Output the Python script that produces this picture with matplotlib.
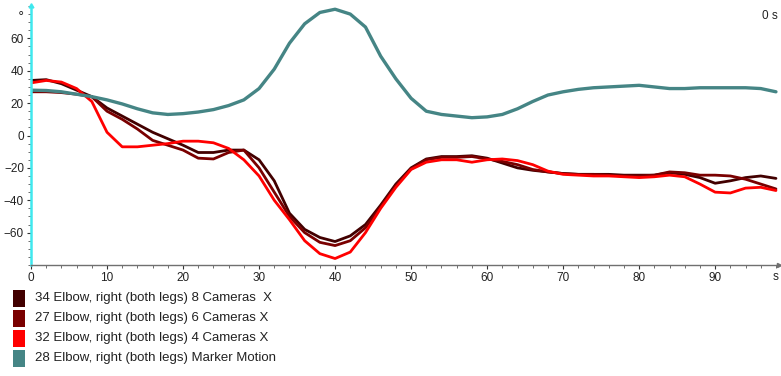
import matplotlib.pyplot as plt
from matplotlib.patches import Rectangle
from matplotlib.ticker import MultipleLocator

# time axis (s), read every 2 s
t = list(range(0, 100, 2))

cam8 = [34, 34.5, 32, 28, 24, 17, 12, 7, 2, -2,
        -6, -10.5, -10.5, -9, -9, -15, -28, -48, -58, -63,
        -65.5, -62, -55, -43, -30, -20, -14.5, -13, -13, -12.5,
        -14, -17, -20, -21.5, -22.5, -23.5, -24, -24, -24, -24.5,
        -24.5, -24.5, -23, -24, -26, -29.5, -28, -26, -25, -26.5]

cam6 = [27, 27, 26.5, 25.5, 24, 15, 10, 4, -3, -6,
        -9, -14, -14.5, -10.5, -9, -20, -35, -50, -60, -66,
        -68, -65, -57, -44, -31, -20.5, -15, -13.5, -13.5, -13,
        -14.5, -16, -18, -21, -22.5, -23.5, -24, -24, -24.5, -25,
        -25, -24.5, -22.5, -23, -24.5, -24.5, -25, -27, -30, -33]

cam4 = [32.5, 34, 33, 29, 21, 2, -7, -7, -6, -5,
        -3.5, -3.5, -4.5, -8, -15, -25, -40, -52, -65, -73,
        -76, -72, -60, -45, -32, -21, -16.5, -15, -15, -16.5,
        -15, -14.5, -15.5, -18, -22, -24, -24.5, -25, -25, -25.5,
        -26, -25.5, -24.5, -25.5, -30, -35, -35.5, -32.5, -32, -34]

marker = [28, 27.8, 27, 25.5, 24, 22, 19.5, 16.5, 14, 13,
          13.5, 14.5, 16, 18.5, 22, 29, 41, 57, 69, 76,
          78, 75, 67, 49, 35, 23, 15, 13, 12, 11,
          11.5, 13, 16.5, 21, 25, 27, 28.5, 29.5, 30, 30.5,
          31, 30, 29, 29, 29.5, 29.5, 29.5, 29.5, 29, 27]

labels = ["34 Elbow, right (both legs) 8 Cameras  X",
          "27 Elbow, right (both legs) 6 Cameras X",
          "32 Elbow, right (both legs) 4 Cameras X",
          "28 Elbow, right (both legs) Marker Motion"]
colors = ["#420000", "#7a0000", "#ff0000", "#458585"]

font = ['Liberation Sans', 'DejaVu Sans']
W, H = 781, 376

fig = plt.figure(figsize=(W / 100, H / 100), dpi=100)
ax = fig.add_axes([31 / W, 111 / H, 748 / W, 259 / H])

for series, c, lw in zip([cam8, cam6, cam4, marker], colors, [2.0, 2.0, 2.0, 2.4]):
    ax.plot(t, series, color=c, lw=lw, solid_capstyle='round')

ax.set_xlim(0, 98.4)
ax.set_ylim(-80, 80)

for s in ['top', 'right']:
    ax.spines[s].set_visible(False)
ax.spines['left'].set_color('#3ee8ee')
ax.spines['left'].set_linewidth(1.8)
ax.spines['bottom'].set_color('#707070')
ax.spines['bottom'].set_linewidth(1.0)

# axis arrows
ax.plot(0, 1, marker=(3, 0, 0), color='#3ee8ee', ms=4, transform=ax.transAxes, clip_on=False)
ax.plot(1, 0, marker='>', color='#707070', ms=3, transform=ax.transAxes, clip_on=False)

ax.set_xticks(range(0, 100, 10))
ax.set_yticks(range(-60, 80, 20))
ax.xaxis.set_minor_locator(MultipleLocator(2))
ax.yaxis.set_minor_locator(MultipleLocator(5))
ax.tick_params(which='major', length=3, width=0.8, color='#333333', labelsize=8.5,
               labelcolor='#222222', pad=2)
ax.tick_params(which='minor', length=2, width=0.6, color='#555555')
for lab in ax.get_xticklabels() + ax.get_yticklabels():
    lab.set_family(font)

ax.text(-0.013, 0.985, "°", transform=ax.transAxes, ha='center', va='top',
        fontsize=9, color='#222222')
ax.text(0.995, -0.025, "s", transform=ax.transAxes, ha='center', va='top',
        fontsize=8.5, color='#222222', family=font)
fig.text(0.996, 0.957, "0 s", ha='right', va='center', fontsize=8.5, color='#222222', family=font)

# legend below the plot: coloured swatch + label per series
for i, (lab, c) in enumerate(zip(labels, colors)):
    yc = 298 + i * 20
    fig.add_artist(Rectangle((13 / W, 1 - (yc + 8.5) / H), 12 / W, 17 / H,
                             transform=fig.transFigure, facecolor=c, edgecolor='none'))
    fig.text(35 / W, 1 - yc / H, lab, ha='left', va='center', fontsize=9.5,
             color='#222222', family=font)

fig.savefig('out.png', dpi=100)
